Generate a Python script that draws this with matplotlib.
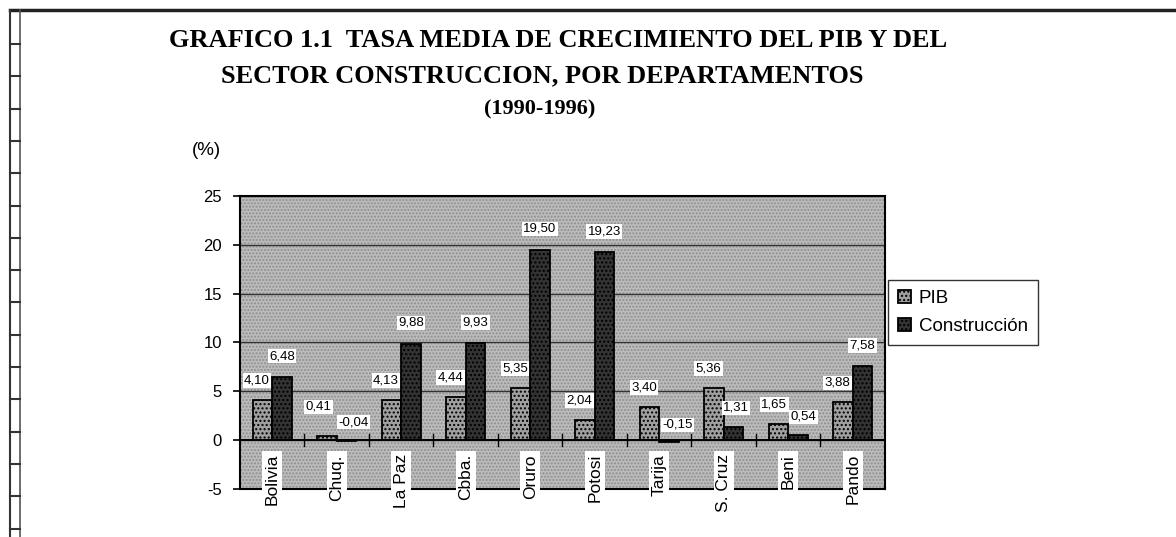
import matplotlib.pyplot as plt
import numpy as np
from matplotlib.patches import Rectangle
from matplotlib.lines import Line2D

# datos del grafico
departamentos = ["Bolivia", "Chuq.", "La Paz", "Cbba.", "Oruro", "Potosi", "Tarija", "S. Cruz", "Beni", "Pando"]
pib = [4.10, 0.41, 4.13, 4.44, 5.35, 2.04, 3.40, 5.36, 1.65, 3.88]
construccion = [6.48, -0.04, 9.88, 9.93, 19.50, 19.23, -0.15, 1.31, 0.54, 7.58]
yticks = [-5, 0, 5, 10, 15, 20, 25]

plt.rcParams['font.family'] = ['Liberation Sans', 'DejaVu Sans']

fig = plt.figure(figsize=(11.76, 5.37), dpi=100)
ax = fig.add_axes([0.204, 0.0894, 0.5485, 0.5456])

# fondo gris punteado
ax.set_facecolor('#bcbcbc')
ax.add_patch(Rectangle((0, 0), 1, 1, transform=ax.transAxes, facecolor='none',
                       edgecolor='#8e8e8e', hatch='.....', linewidth=0, zorder=0))

x = np.arange(len(departamentos))
w = 0.3
b1 = ax.bar(x - w / 2, pib, w, color='#a0a0a0', edgecolor='black', linewidth=1.3,
            hatch='....', label='PIB', zorder=3)
b2 = ax.bar(x + w / 2, construccion, w, color='#333333', edgecolor='black', linewidth=1.3,
            hatch='....', label='Construcción', zorder=3)

def fmt(v):
    return ("%.2f" % v).replace('.', ',')

# pequenos desplazamientos para etiquetas que se tocan
nudge_pib = {1: (-6, 21), 8: (-3, 14)}
nudge_con = {1: (5, 13), 6: (6, 11), 7: (2, 14), 8: (4, 13)}

for i, (xi, v) in enumerate(zip(x - w / 2, pib)):
    ax.annotate(fmt(v), (xi, max(v, 0)), xytext=nudge_pib.get(i, (-4, 14)), textcoords='offset points',
                ha='center', va='center', fontsize=9.5, zorder=5,
                bbox=dict(boxstyle='square,pad=0.1', facecolor='white', edgecolor='none'))
for i, (xi, v) in enumerate(zip(x + w / 2, construccion)):
    ax.annotate(fmt(v), (xi, max(v, 0)), xytext=nudge_con.get(i, (0, 15)), textcoords='offset points',
                ha='center', va='center', fontsize=9.5, zorder=5,
                bbox=dict(boxstyle='square,pad=0.1', facecolor='white', edgecolor='none'))

ax.set_xlim(-0.5, len(departamentos) - 0.5)
ax.set_ylim(-5, 25)
ax.set_yticks(yticks)
ax.set_yticklabels([str(t) for t in yticks], fontsize=12)
ax.yaxis.grid(True, color='#333333', linewidth=1.0, zorder=1)
ax.set_axisbelow(True)
ax.tick_params(axis='y', length=5, width=1.2, direction='out', pad=8)
ax.set_xticks([])
for s in ax.spines.values():
    s.set_linewidth(1.5)

# eje cero con marcas entre categorias
ax.axhline(0, color='black', linewidth=1.5, zorder=4)
for xb in np.arange(0.5, len(departamentos) - 0.5, 1):
    ax.plot([xb, xb], [-0.6, 0.6], color='black', linewidth=1, zorder=4)

# etiquetas de categoria bajo la linea de cero
for xi, name in zip(x, departamentos):
    ax.annotate(name, (xi, 0), xytext=(0, -10), textcoords='offset points',
                rotation=90, ha='center', va='top', fontsize=12.5, zorder=6,
                bbox=dict(boxstyle='square,pad=0.15', facecolor='white', edgecolor='none'),
                annotation_clip=False)

ax.text(-0.052, 1.155, "(%)", transform=ax.transAxes, fontsize=13.5, ha='center', va='center')

leg = fig.legend(handles=[b1, b2], loc='upper left', bbox_to_anchor=(0.755, 0.479),
                 fontsize=13.5, frameon=True, fancybox=False, edgecolor='black',
                 handlelength=0.7, handleheight=0.7, handletextpad=0.4, borderpad=0.55,
                 labelspacing=0.55, borderaxespad=0)
leg.get_frame().set_linewidth(1.0)

# titulo
tf = dict(family='Liberation Serif', fontweight='bold', fontsize=19, ha='center', va='center')
fig.text(0.475, 0.925, "GRAFICO 1.1  TASA MEDIA DE CRECIMIENTO DEL PIB Y DEL", **tf)
fig.text(0.461, 0.858, "SECTOR CONSTRUCCION, POR DEPARTAMENTOS", **tf)
tf['fontsize'] = 16
fig.text(0.459, 0.797, "(1990-1996)", **tf)

# marco de la pagina
W, H = 1176, 537
fig.add_artist(Line2D([10 / W, 1.0], [1 - 10 / H, 1 - 10 / H], color='#222222', linewidth=2.5))
fig.add_artist(Line2D([10 / W, 10 / W], [0, 1 - 10 / H], color='#333333', linewidth=1.5))
fig.add_artist(Line2D([20 / W, 20 / W], [0, 1 - 10 / H], color='#555555', linewidth=1.2))
for yy in np.arange(44, 537, 32.3):
    fig.add_artist(Line2D([10 / W, 20 / W], [1 - yy / H, 1 - yy / H], color='#333333', linewidth=1.5))

fig.savefig('out.png', dpi=100)
